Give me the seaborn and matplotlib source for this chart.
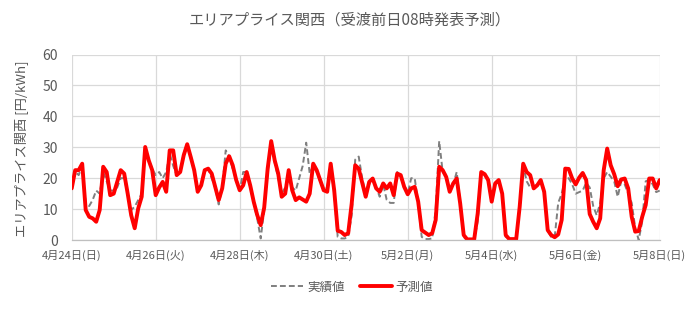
import pandas as pd
import matplotlib
matplotlib.use("Agg")
import matplotlib.pyplot as plt
from matplotlib.lines import Line2D
import seaborn as sns

# ---- data (2-hourly, 2022-04-24 00:00 .. 2022-05-08 00:00) ----
start = "2022-04-24"
step = "2h"

forecast = [
    16.7, 22.6, 22.6, 24.7, 9.7, 7.5, 7.0, 5.9, 9.7, 23.7, 22.0, 14.5,      # 4/24
    15.0, 18.8, 22.6, 21.5, 15.0, 8.0, 3.8, 10.2, 14.0, 30.1, 25.8, 22.6,   # 4/25
    14.5, 17.0, 18.8, 15.6, 29.0, 29.0, 21.0, 22.0, 27.4, 31.0, 26.9, 22.6, # 4/26
    15.6, 17.7, 22.6, 23.1, 21.5, 17.2, 12.9, 16.7, 24.7, 27.1, 24.2, 19.4, # 4/27
    16.1, 17.7, 22.0, 17.7, 12.4, 8.1, 4.8, 10.5, 23.2, 32.0, 25.8, 21.5,   # 4/28
    14.0, 15.0, 22.6, 16.1, 12.9, 13.8, 13.1, 12.4, 15.0, 24.7, 22.6, 19.4, # 4/29
    16.1, 15.6, 24.7, 16.1, 3.0, 2.6, 1.6, 2.2, 11.8, 24.2, 23.1, 18.5,     # 4/30
    14.0, 18.8, 19.9, 16.7, 15.6, 18.3, 16.7, 18.3, 14.5, 21.5, 21.0, 17.2, # 5/1
    14.8, 16.7, 17.2, 12.4, 3.2, 2.4, 1.6, 2.2, 6.5, 23.7, 22.6, 20.4,      # 5/2
    15.6, 18.3, 19.9, 11.8, 1.6, 0.2, 0.2, 0.2, 8.6, 22.0, 21.3, 19.4,      # 5/3
    12.4, 18.3, 19.4, 15.0, 1.6, 0.3, 0.3, 0.3, 10.8, 24.7, 22.0, 21.0,     # 5/4
    16.7, 17.7, 19.4, 15.6, 3.2, 1.6, 0.9, 1.8, 6.5, 23.1, 23.0, 19.9,      # 5/5
    18.0, 20.2, 21.7, 19.4, 8.4, 5.9, 3.8, 7.0, 22.6, 29.6, 24.2, 21.3,     # 5/6
    17.4, 19.6, 19.9, 16.7, 7.5, 2.7, 2.9, 7.5, 11.3, 19.9, 19.9, 16.7,     # 5/7
    19.4,                                                                   # 5/8
]

actual = [
    17.0, 22.0, 21.0, 24.0, 12.0, 11.0, 13.0, 16.0, 15.0, 22.0, 19.0, 16.0, # 4/24
    16.0, 17.0, 20.0, 20.0, 15.0, 9.7, 10.8, 12.9, 15.0, 28.0, 26.0, 23.0,  # 4/25
    21.0, 22.0, 20.0, 22.0, 28.0, 24.0, 21.0, 22.0, 28.0, 31.0, 27.0, 22.0, # 4/26
    16.0, 18.0, 22.0, 23.0, 20.0, 17.0, 11.5, 17.0, 29.0, 27.0, 23.0, 20.0, # 4/27
    16.0, 22.0, 22.0, 17.0, 12.0, 7.0, 0.5, 9.7, 22.0, 30.0, 25.0, 20.0,    # 4/28
    15.0, 17.0, 22.0, 17.0, 16.0, 20.0, 24.0, 31.5, 21.5, 24.0, 22.0, 19.0, # 4/29
    16.0, 17.0, 24.0, 15.0, 1.0, 0.5, 0.5, 1.0, 8.0, 26.0, 27.0, 20.0,      # 4/30
    15.0, 18.0, 20.0, 17.0, 14.0, 18.0, 13.0, 12.0, 12.0, 22.0, 20.0, 18.0, # 5/1
    15.0, 20.0, 20.0, 12.0, 1.0, 0.3, 0.3, 0.5, 10.0, 32.0, 22.0, 21.0,     # 5/2
    16.0, 18.0, 22.0, 12.0, 1.0, 0.0, 0.0, 0.0, 6.0, 22.0, 21.0, 19.0,      # 5/3
    12.0, 18.0, 19.0, 15.0, 1.0, 0.0, 0.0, 0.0, 10.0, 24.0, 19.0, 17.0,     # 5/4
    17.0, 18.0, 19.0, 15.0, 3.0, 1.0, 1.0, 12.0, 15.0, 20.0, 20.0, 18.0,    # 5/5
    15.0, 15.5, 16.0, 18.5, 17.0, 11.0, 8.0, 12.0, 20.0, 22.0, 20.5, 19.0,  # 5/6
    14.0, 19.0, 18.0, 15.0, 12.0, 4.0, 0.0, 6.0, 19.0, 19.5, 18.0, 15.5,    # 5/7
    16.0,                                                                   # 5/8
]

tick_dates = ["2022-04-24", "2022-04-26", "2022-04-28", "2022-04-30",
              "2022-05-02", "2022-05-04", "2022-05-06", "2022-05-08"]
tick_labels = ["4月24日(日)", "4月26日(火)", "4月28日(木)", "4月30日(土)",
               "5月2日(月)", "5月4日(水)", "5月6日(金)", "5月8日(日)"]
yticks = [0, 10, 20, 30, 40, 50, 60]

series_names = ["実績値", "予測値"]
title = "エリアプライス関西（受渡前日08時発表予測）"
ylabel = "エリアプライス関西 [円/kWh]"

# ---- style ----
sns.set_theme(style="white")
plt.rcParams["font.family"] = ["Noto Sans CJK JP", "DejaVu Sans"]
txt = "#595959"
grid_c = "#d9d9d9"

times = pd.date_range(start, periods=len(forecast), freq=step)
df = pd.DataFrame({"time": times, series_names[0]: actual, series_names[1]: forecast})

fig = plt.figure(figsize=(7, 3.1), dpi=100)
ax = fig.add_axes([71.7 / 700, 1 - 240 / 310, 588 / 700, 185.4 / 310])

sns.lineplot(data=df, x="time", y=series_names[0], ax=ax, color="#7f7f7f",
             linewidth=1.4, linestyle=(0, (3, 1.6)))
sns.lineplot(data=df, x="time", y=series_names[1], ax=ax, color="#ff0000",
             linewidth=2.8)

ax.set_xlim(pd.Timestamp(tick_dates[0]), pd.Timestamp(tick_dates[-1]))
ax.set_ylim(yticks[0], yticks[-1])
ax.set_yticks(yticks)
ax.set_xticks([pd.Timestamp(d) for d in tick_dates])
ax.set_xticklabels(tick_labels)
ax.tick_params(axis="x", length=0, pad=7, labelsize=8, labelcolor=txt)
ax.tick_params(axis="y", length=0, pad=10, labelsize=10, labelcolor=txt)
ax.grid(True, color=grid_c, linewidth=0.9)
ax.set_axisbelow(True)
for s in ["top", "right", "left"]:
    ax.spines[s].set_visible(False)
ax.spines["bottom"].set_color("#bfbfbf")
ax.spines["bottom"].set_linewidth(0.9)

ax.set_xlabel("")
ax.set_ylabel(ylabel, fontsize=9.5, color=txt)
ax.yaxis.set_label_coords(-0.074, 0.49)

fig.text(0.5, 1 - 20 / 310, title, ha="center", va="center", fontsize=11, color=txt)

handles = [Line2D([], [], color="#7f7f7f", linewidth=1.4, linestyle=(0, (3, 1.6))),
           Line2D([], [], color="#ff0000", linewidth=2.8)]
fig.legend(handles, series_names, loc="center", bbox_to_anchor=(352 / 700, 1 - 287 / 310),
           ncol=2, frameon=False, fontsize=9, labelcolor=txt, handlelength=2.6,
           handletextpad=0.3, columnspacing=1.2)

fig.savefig("out.png", dpi=100)
